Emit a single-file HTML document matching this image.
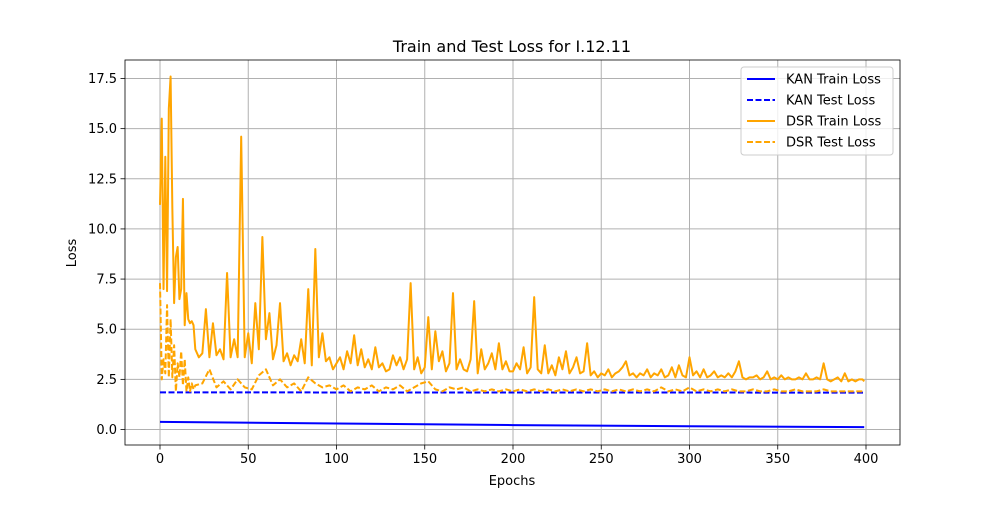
<!DOCTYPE html>
<html><head><meta charset="utf-8"><style>
body{margin:0;background:#fff;font-family:"Liberation Sans","DejaVu Sans",sans-serif}
svg text{font-family:"DejaVu Sans","Liberation Sans",sans-serif}
</style></head><body>
<svg id="chart" width="1000" height="500" xmlns="http://www.w3.org/2000/svg"></svg>
<script>
const xTicks=[0,50,100,150,200,250,300,350,400];
const yTicks=[0,2.5,5,7.5,10,12.5,15,17.5];
const yTickLabels=["0.0","2.5","5.0","7.5","10.0","12.5","15.0","17.5"];
const kanTrainEpochs=[0,100,200,300,399];
const kanTrainValues=[0.38,0.30,0.22,0.16,0.12];
const kanTestEpochs=[0,399];
const kanTestValues=[1.85,1.84];
const dsrTrainEpochs=[0,1,2,3,4,5,6,7,8,9,10,11,12,13,14,15,16,17,18,19,20,22,24,26,28,30,32,34,36,38,40,42,44,46,48,50,52,54,56,58,60,62,64,66,68,70,72,74,76,78,80,82,84,86,88,90,92,94,96,98,100,102,104,106,108,110,112,114,116,118,120,122,124,126,128,130,132,134,136,138,140,142,144,146,148,150,152,154,156,158,160,162,164,166,168,170,172,174,176,178,180,182,184,186,188,190,192,194,196,198,200,202,204,206,208,210,212,214,216,218,220,222,224,226,228,230,232,234,236,238,240,242,244,246,248,250,252,254,256,258,260,262,264,266,268,270,272,274,276,278,280,282,284,286,288,290,292,294,296,298,300,302,304,306,308,310,312,314,316,318,320,322,324,326,328,330,332,334,336,338,340,342,344,346,348,350,352,354,356,358,360,362,364,366,368,370,372,374,376,378,380,382,384,386,388,390,392,394,396,398,399];
const dsrTrainValues=[11.2,15.5,7,13.6,6.9,16,17.6,11,6.3,8.6,9.1,6.5,7,11.5,5.2,6.8,5.5,5.3,5.4,5.2,4.0,3.6,3.8,6.0,3.6,5.3,3.7,4.0,3.5,7.8,3.6,4.5,3.6,14.6,3.6,4.8,3.3,6.3,4.0,9.6,4.5,5.8,3.5,4.2,6.3,3.4,3.8,3.2,3.7,3.4,4.5,3.3,7.0,3.2,9.0,3.6,4.8,3.4,3.6,3.0,3.3,3.6,3.0,3.9,3.3,4.7,3.2,4.0,3.1,3.5,3.0,4.1,3.1,3.3,2.9,3.0,3.7,3.2,3.6,3.0,3.5,7.3,3.0,3.6,2.8,3.1,5.6,3.0,4.9,3.4,3.9,2.9,3.3,6.8,3.0,3.5,3.0,2.9,3.5,6.4,2.8,4.0,3.0,3.3,3.8,3.0,4.3,3.0,3.4,2.9,2.9,3.3,3.0,4.1,2.8,3.1,6.6,3.0,2.8,4.2,2.8,3.2,2.7,3.6,3.0,3.9,2.8,3.1,3.6,2.8,2.9,4.3,2.7,2.9,2.6,2.8,2.7,3.0,2.6,2.8,2.9,3.1,3.4,2.7,2.8,2.6,2.8,2.7,3.0,2.6,2.8,2.7,3.0,2.6,2.7,3.1,2.6,3.2,2.7,2.6,3.6,2.7,2.9,2.6,3.0,2.6,2.7,2.9,2.6,2.7,2.6,2.8,2.6,2.9,3.4,2.6,2.5,2.6,2.6,2.7,2.5,2.6,2.9,2.5,2.6,2.5,2.7,2.5,2.6,2.5,2.5,2.6,2.5,2.8,2.5,2.5,2.6,2.5,3.3,2.5,2.4,2.5,2.6,2.4,2.8,2.4,2.5,2.4,2.5,2.5,2.4];
const dsrTestEpochs=[0,1,2,3,4,5,6,7,8,9,10,11,12,13,14,15,16,17,18,19,20,24,28,32,36,40,44,48,52,56,60,64,68,72,76,80,84,88,92,96,100,104,108,112,116,120,124,128,132,136,140,144,148,152,156,160,164,168,172,176,180,184,188,192,196,200,204,208,212,216,220,224,228,232,236,240,244,248,252,256,260,264,268,272,276,280,284,288,292,296,300,304,308,312,316,320,324,328,332,336,340,344,348,352,356,360,364,368,372,376,380,384,388,392,396,399];
const dsrTestValues=[7.3,2.5,3.5,2.8,6.2,2.6,5.5,2.6,4.2,1.9,3.3,2.6,3.9,2.2,3.5,1.9,2.6,1.9,2.3,2.0,2.2,2.3,3.0,2.1,2.4,2.0,2.5,2.1,2.0,2.7,3.0,2.2,2.5,2.1,2.3,1.9,2.6,2.3,2.1,2.2,2.0,2.2,1.9,2.1,2.0,2.2,1.9,2.1,2.0,2.2,1.9,2.1,2.3,2.4,2.0,1.9,2.1,2.0,2.1,1.9,2.0,1.9,2.0,1.9,2.0,1.9,2.0,1.9,2.0,1.9,2.0,1.9,2.0,1.9,2.0,1.9,2.0,1.9,2.0,1.9,2.0,1.9,2.0,1.9,2.0,1.9,2.1,1.9,2.0,1.9,2.1,1.9,2.0,1.9,2.0,1.9,2.0,1.9,1.9,2.0,1.9,1.9,2.0,1.9,1.9,2.0,1.9,1.9,1.9,2.0,1.9,1.9,1.9,1.9,1.9,1.9];

const NS="http://www.w3.org/2000/svg";
const svg=document.getElementById('chart');
const L=125,R=900,T=60,B=445;
const xs=v=>160+(v/400)*(866-160);
const ys=v=>429.5-(v/17.5)*(429.5-78.5);
function mk(tag,attrs,parent){const e=document.createElementNS(NS,tag);for(const k in attrs)e.setAttribute(k,attrs[k]);(parent||svg).appendChild(e);return e;}
const grid=mk('g',{});


xTicks.forEach(t=>{
  const l=mk('line',{x1:xs(t),x2:xs(t),y1:T,y2:B,stroke:'#b0b0b0','stroke-width':1},grid);
  
  
  mk('line',{x1:xs(t),x2:xs(t),y1:B,y2:B+4.5,stroke:'#000','stroke-width':0.8});
  const tx=mk('text',{x:xs(t),y:B+18,'text-anchor':'middle','font-size':13});
  tx.textContent=t;
  
  
});
yTicks.forEach((t,i)=>{
  const l=mk('line',{x1:L,x2:R,y1:ys(t),y2:ys(t),stroke:'#b0b0b0','stroke-width':1},grid);
  
  
  mk('line',{x1:L-4.5,x2:L,y1:ys(t),y2:ys(t),stroke:'#000','stroke-width':0.8});
  const tx=mk('text',{x:L-8,y:ys(t)+4.5,'text-anchor':'end','font-size':13});
  tx.textContent=yTickLabels[i];
  
  
});
function line(ex,vals,color,dash,name){
  const p=mk('polyline',{points:ex.map((e,i)=>xs(e)+','+ys(vals[i])).join(' '),fill:'none',stroke:color,'stroke-width':2,'stroke-dasharray':dash||'none','stroke-linejoin':'round'});
  
  
}
line(kanTrainEpochs,kanTrainValues,'#0000ff',null,'kan-train-line');
line(kanTestEpochs,kanTestValues,'#0000ff','6,2.5','kan-test-line');
line(dsrTrainEpochs,dsrTrainValues,'#ffa500',null,'dsr-train-line');
line(dsrTestEpochs,dsrTestValues,'#ffa500','6,2.5','dsr-test-line');
mk('rect',{x:L,y:T,width:R-L,height:B-T,fill:'none',stroke:'#000','stroke-width':0.8});
const ti=mk('text',{x:512,y:52,'text-anchor':'middle','font-size':16});ti.textContent='Train and Test Loss for I.12.11';


const xl=mk('text',{x:512,y:485,'text-anchor':'middle','font-size':13});xl.textContent='Epochs';


const yl=mk('text',{x:76,y:253,'text-anchor':'middle','font-size':13,transform:'rotate(-90 76 253)'});yl.textContent='Loss';


const lg=mk('g',{});


mk('rect',{x:741,y:67,width:152,height:88,rx:3,fill:'#fff','fill-opacity':0.8,stroke:'#ccc'},lg);
[['KAN Train Loss','#0000ff',null],['KAN Test Loss','#0000ff','6,2.5'],['DSR Train Loss','#ffa500',null],['DSR Test Loss','#ffa500','6,2.5']].forEach((d,i)=>{
  const y=79+i*21;
  mk('line',{x1:747,x2:775,y1:y,y2:y,stroke:d[1],'stroke-width':2,'stroke-dasharray':d[2]||'none'},lg);
  const t=mk('text',{x:786,y:y+4.5,'font-size':13},lg);t.textContent=d[0];
  
  
});
</script>
</body></html>
